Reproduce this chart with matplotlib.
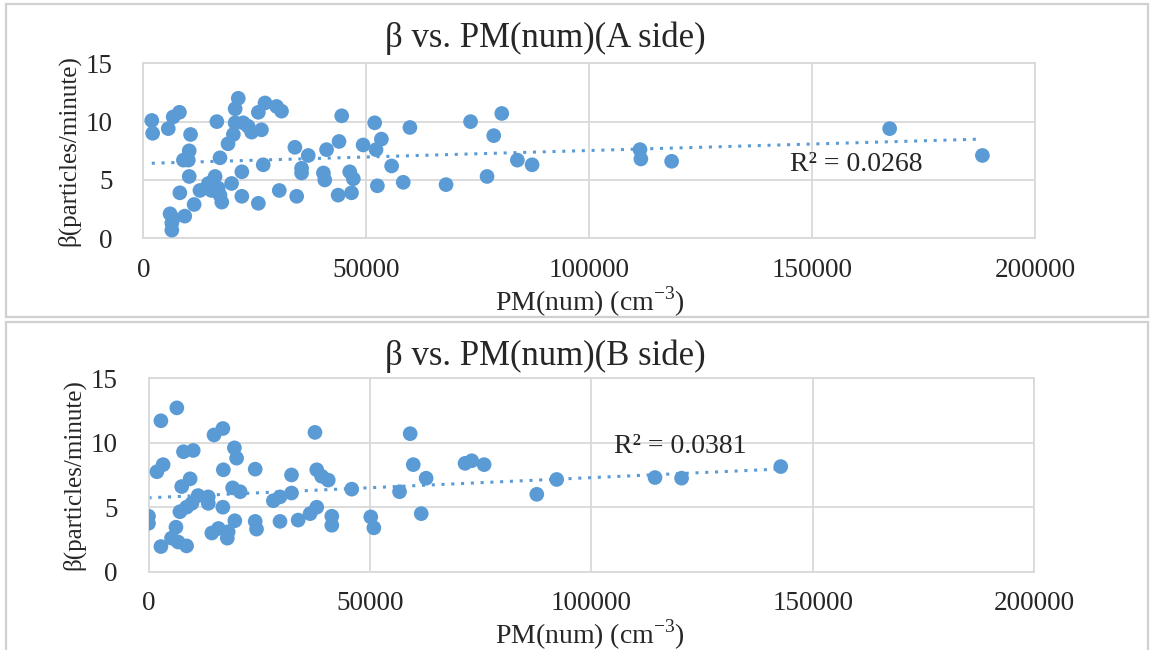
import matplotlib.pyplot as plt
import numpy as np
from matplotlib.patches import Rectangle

plt.rcParams['font.family'] = ['Liberation Serif', 'DejaVu Serif']
plt.rcParams['mathtext.fontset'] = 'custom'
plt.rcParams['mathtext.rm'] = 'Liberation Serif'

# A side: PM number concentration (cm-3) and beta (particles/minute)
pm_a = [1900, 2100, 5600, 6700, 8100, 10600, 10300, 9000, 10100, 10300,
        8200, 6000, 6700, 6400, 6400, 9300, 11400, 12700, 14600, 15300,
        16100, 16800, 17200, 17600, 16500, 17200, 19800, 19000, 20200, 20600,
        21300, 20600, 22400, 23500, 22100, 22100, 25800, 24300, 26500, 25800,
        27300, 29900, 31000, 26900, 30500, 34000, 35500, 35500, 37000, 34400,
        40400, 40700, 41100, 43900, 44500, 46300, 47100, 43700, 46700, 49300,
        51900, 53400, 52200, 55700, 52500, 58300, 59800, 67900, 73400, 78600,
        80400, 77100, 83900, 87200, 111400, 111600, 118500, 167400, 188200]
beta_a = [10.1, 9.0, 9.4, 10.4, 10.8, 8.9, 7.5, 6.7, 6.7, 5.3,
          3.9, 2.1, 1.7, 0.7, 1.3, 1.9, 2.9, 4.1, 4.7, 4.1,
          5.3, 4.3, 3.7, 3.1, 10.0, 6.9, 4.7, 8.1, 8.9, 11.1,
          12.0, 9.9, 9.9, 9.6, 5.7, 3.6, 3.0, 9.1, 9.3, 10.8,
          11.6, 11.3, 10.9, 6.3, 4.1, 7.8, 6.0, 5.6, 7.1, 3.6,
          5.6, 5.0, 7.6, 8.3, 10.5, 5.7, 5.1, 3.7, 3.9, 8.0,
          9.9, 8.5, 7.6, 6.2, 4.5, 4.8, 9.5, 4.6, 10.0, 8.8,
          10.7, 5.3, 6.7, 6.3, 7.6, 6.8, 6.6, 9.4, 7.1]

# B side
pm_b = [0, 0, 2800, 6400, 1900, 3300, 2800, 5200, 6200, 6700,
        8600, 7500, 9400, 7900, 10100, 7100, 8600, 9800, 11200, 13500,
        13500, 14300, 15800, 16800, 14800, 16800, 16900, 19400, 19900, 19000,
        20700, 17800, 18000, 19500, 24100, 24100, 24400, 28200, 29700, 29700,
        32300, 32300, 33800, 36500, 38000, 37600, 38000, 39100, 40600, 41400,
        41400, 45900, 50200, 50900, 56700, 59100, 59800, 62700, 61600, 71500,
        73000, 75800, 87700, 92200, 114400, 120400, 142800]
beta_b = [4.3, 3.75, 11.7, 12.7, 7.75, 8.3, 1.95, 2.6, 3.45, 2.3,
          2.0, 6.6, 7.2, 9.3, 9.4, 4.65, 5.0, 5.3, 5.9, 5.8,
          5.3, 3.0, 3.35, 5.0, 10.6, 11.1, 7.9, 9.6, 8.8, 6.5,
          6.2, 2.6, 3.1, 3.95, 7.95, 3.9, 3.3, 5.5, 5.8, 3.9,
          7.5, 6.1, 4.0, 4.5, 5.0, 10.8, 7.9, 7.4, 7.1, 4.3,
          3.6, 6.4, 4.25, 3.4, 6.2, 10.7, 8.3, 7.25, 4.5, 8.4,
          8.6, 8.3, 6.0, 7.15, 7.3, 7.25, 8.15]

titles = ['β vs. PM(num)(A side)', 'β vs. PM(num)(B side)']
r2_labels = ['R² = 0.0268', 'R² = 0.0381']
r2_pos = [(160000, 6.3), (120000, 9.7)]

blue = '#5b9bd5'
grid = '#d9d9d9'

fig = plt.figure(figsize=(11.5, 6.5), dpi=100)

# outer chart frames
for x0, y0, w, h in [(6, 4, 1142, 313), (6, 322, 1142, 340)]:
    fig.patches.append(Rectangle((x0 / 1150, 1 - (y0 + h) / 650), w / 1150, h / 650,
                                 transform=fig.transFigure, fill=False,
                                 edgecolor='#d0d0d0', linewidth=1.6))

axes_pos = [[143.3 / 1150, 1 - 238.3 / 650, (1035 - 143.3) / 1150, 175 / 650],
            [148.5 / 1150, 1 - 571.7 / 650, (1034 - 148.5) / 1150, 193.5 / 650]]
title_y = [38, 356]
xlabel_y = [302, 635]

for i, (xs, ys) in enumerate([(pm_a, beta_a), (pm_b, beta_b)]):
    ax = fig.add_axes(axes_pos[i])
    xs = np.array(xs, dtype=float)
    ys = np.array(ys, dtype=float)

    ax.scatter(xs, ys, s=112, color=blue, edgecolors='none', zorder=3)

    # linear trendline across the data range
    k, b = np.polyfit(xs, ys, 1)
    xt = np.array([xs.min(), xs.max()])
    ax.plot(xt, k * xt + b, linestyle=(0, (1, 2.2)), color=blue, lw=2.2, zorder=2)

    ax.text(r2_pos[i][0], r2_pos[i][1], r2_labels[i], fontsize=20,
            ha='center', va='center', color='#262626', zorder=4)

    ax.set_xlim(0, 200000)
    ax.set_ylim(0, 15)
    ax.set_xticks([0, 50000, 100000, 150000, 200000])
    ax.set_yticks([0, 5, 10, 15])
    ax.set_xticklabels(['0', '50000', '100000', '150000', '200000'])
    ax.grid(True, color=grid, linewidth=1.3)
    ax.set_axisbelow(True)
    for s in ax.spines.values():
        s.set_color(grid)
        s.set_linewidth(1.3)
    ax.tick_params(length=0, labelsize=19.5, colors='#262626')
    ax.tick_params(axis='x', pad=14)
    ax.tick_params(axis='y', pad=22)
    ax.set_ylabel('β(particles/minute)', fontsize=18, color='#262626', labelpad=4)

    fig.text(545 / 1150, 1 - title_y[i] / 650, titles[i], fontsize=25,
             ha='center', va='center', color='#262626')
    fig.text(590 / 1150, 1 - xlabel_y[i] / 650, 'PM(num) (cm$^{-3}$)', fontsize=20,
             ha='center', va='center', color='#262626')

fig.savefig('out.png', dpi=100)
